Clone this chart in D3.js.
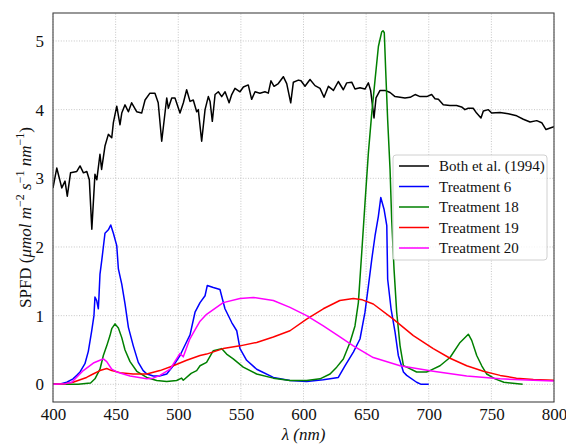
<!DOCTYPE html>
<html>
<head>
<meta charset="utf-8">
<script src="https://cdn.jsdelivr.net/npm/d3@7/dist/d3.min.js"></script>
<style>
  html, body { margin: 0; padding: 0; background: #fff; }
  svg { display: block; }
  svg text { font-family: "Liberation Serif", "Times New Roman", Times, "DejaVu Serif", serif !important; fill: #111; }
</style>
</head>
<body>
<svg id="chart" width="566" height="446"></svg>
<script>
// Spectral photon flux density, wavelength (nm) vs SPFD
const xTicks = [400, 450, 500, 550, 600, 650, 700, 750, 800];
const yTicks = [0, 1, 2, 3, 4, 5];

const seriesNames = ["Both et al. (1994)", "Treatment 6", "Treatment 18", "Treatment 19", "Treatment 20"];
const seriesColors = ["#000000", "#0000ff", "#008000", "#ff0000", "#ff00ff"];

// Both et al. (1994) reference spectrum
const bothWl = [400, 403, 407, 409.6, 411.4, 414, 419, 421.6, 424.3, 427, 429, 431, 433.5, 435, 437.5, 438.8, 441.5, 444.2, 446.9, 448.2,
  450.9, 453.5, 454.9, 457.5, 460.2, 462.8, 466.8, 470.8, 473.5, 477.4, 481.4, 484, 486.8, 490.8, 492.1, 494.8, 497.4, 501.4, 504.1, 506.7,
  509.4, 512, 514.7, 516, 518.7, 521.4, 524, 525.4, 527.2, 529.4, 532, 534.7, 537.4, 540.6, 542.7, 545.3, 549.3, 552, 555.9, 558.6,
  561.3, 565.2, 569.2, 571.9, 574, 576.5, 579.9, 583.9, 586.6, 589.8, 591.9, 595.9, 598, 601.2, 605.2, 609.2, 613.2, 616.4, 619.9, 623.9,
  627.8, 631.8, 634.5, 638.5, 641.1, 645.1, 649.1, 651.8, 653.6, 656.3, 657.9, 661.1, 665.1, 669.1, 673.1, 677.1, 681, 685.1, 689.1, 693.1,
  698.4, 702.3, 705, 707.7, 711.6, 716.9, 722.2, 726.2, 728.9, 731.5, 735.5, 738.2, 741.7, 743.6, 747.6, 750.2, 756.9, 763.5, 770.2, 775.5,
  780.9, 786.2, 790.2, 793.6, 798.1, 800];
const bothVal = [2.86, 3.15, 2.86, 2.96, 2.74, 3.08, 3.10, 3.18, 3.08, 3.10, 2.98, 2.26, 3.06, 2.98, 3.35, 3.13, 3.47, 3.64, 3.59, 3.81,
  4.05, 3.78, 3.95, 4.07, 3.97, 4.10, 3.97, 3.95, 4.14, 4.24, 4.24, 4.10, 3.54, 4.17, 4.02, 4.17, 4.17, 3.95, 4.10, 4.29,
  4.12, 4.14, 3.97, 4.00, 3.54, 4.00, 4.19, 4.12, 3.83, 4.22, 4.26, 4.19, 4.26, 4.10, 4.22, 4.31, 4.26, 4.33, 4.36, 4.15,
  4.26, 4.24, 4.26, 4.24, 4.42, 4.34, 4.38, 4.48, 4.38, 4.10, 4.40, 4.43, 4.42, 4.34, 4.44, 4.35, 4.31, 4.18, 4.34, 4.28,
  4.41, 4.29, 4.39, 4.40, 4.30, 4.32, 4.30, 4.39, 4.28, 3.88, 4.17, 4.28, 4.28, 4.25, 4.19, 4.18, 4.17, 4.18, 4.22, 4.19,
  4.19, 4.22, 4.16, 4.15, 4.07, 4.06, 4.06, 4.04, 4.00, 4.02, 4.02, 3.95, 3.88, 3.98, 4.00, 3.95, 3.96, 3.94, 3.91, 3.86,
  3.82, 3.84, 3.81, 3.71, 3.74, 3.75];

// Treatment 6
const t6Wl = [400, 405, 411, 416, 419, 421.6, 425.5, 428.2, 430.9, 432.7, 433.5, 434.9, 436.2, 436.7, 437.5, 438.9, 440.2, 441.5, 444.2, 446.1,
  448.2, 450.9, 452.2, 454.9, 457.5, 460.2, 464.1, 468.1, 472, 475, 480, 485, 490.8, 496, 501.4, 506.7, 509.4, 513.4, 517.4, 521.4,
  523.2, 528, 533.3, 537.3, 542.7, 546.7, 549.3, 554.6, 562.6, 575.9, 589.2, 602.5, 615.8, 627.8, 633.1, 639.8, 645.1, 649.1, 651.8, 654.5,
  657.1, 659.8, 661.7, 664.3, 666.5, 667.2, 669.9, 673.1, 675.7, 679.8, 682.4, 690.3, 694, 700];
const t6Val = [0, 0, 0.03, 0.08, 0.13, 0.18, 0.30, 0.48, 0.78, 1.00, 1.27, 1.22, 1.10, 1.28, 1.60, 1.80, 2.00, 2.20, 2.25, 2.32,
  2.20, 2.02, 1.68, 1.46, 1.17, 0.83, 0.56, 0.32, 0.20, 0.15, 0.12, 0.12, 0.15, 0.27, 0.42, 0.62, 0.72, 1.05, 1.19, 1.29,
  1.44, 1.41, 1.38, 1.10, 0.90, 0.78, 0.52, 0.35, 0.22, 0.10, 0.055, 0.04, 0.065, 0.10, 0.27, 0.47, 0.66, 1.05, 1.43, 1.82,
  2.16, 2.45, 2.72, 2.55, 2.31, 1.53, 1.10, 0.76, 0.42, 0.18, 0.13, 0.03, 0, 0];

// Treatment 18
const t18Wl = [400, 420, 430, 433.5, 437.5, 440.2, 442.9, 445.5, 446.9, 449.5, 452.2, 454.9, 457.5, 461.5, 466.9, 474.8, 482.8, 490.8, 498.7, 502.7,
  504, 510.3, 514.7, 517.4, 522.6, 528, 534.6, 538.6, 543.9, 551.9, 562.6, 575.9, 589.2, 602.5, 613.2, 621.2, 626.5, 631.8, 637.1, 641.1,
  643.8, 646.5, 649.1, 651.8, 654.5, 657.1, 659.8, 662.4, 663.5, 664.5, 665.6, 667.2, 669.1, 670.4, 672.3, 674.4, 677.1, 679.8, 682.4, 690.3,
  698.3, 700.9, 709, 717, 725, 731.6, 734.3, 738.3, 742.3, 746.3, 752.9, 760, 775];
const t18Val = [0, 0, 0.02, 0.08, 0.22, 0.42, 0.56, 0.71, 0.81, 0.88, 0.82, 0.68, 0.50, 0.33, 0.19, 0.10, 0.055, 0.04, 0.055, 0.09,
  0.06, 0.16, 0.20, 0.27, 0.32, 0.49, 0.52, 0.44, 0.37, 0.25, 0.15, 0.09, 0.055, 0.055, 0.08, 0.15, 0.25, 0.37, 0.61, 0.85,
  1.19, 1.92, 2.64, 3.37, 3.95, 4.43, 4.92, 5.13, 5.15, 5.12, 4.58, 3.85, 3.13, 2.40, 1.67, 1.05, 0.56, 0.27, 0.25, 0.18,
  0.18, 0.20, 0.27, 0.39, 0.61, 0.73, 0.64, 0.42, 0.27, 0.15, 0.08, 0.03, 0];

// Treatment 19
const t19Wl = [400, 410, 416, 426.8, 432, 437.5, 442.9, 446.9, 453.5, 464, 474.8, 485.4, 496, 506.7, 517.4, 522.6, 535.9, 549.3, 562.6, 575.9,
  589.2, 602.5, 615.8, 629, 639.8, 647, 655.7, 671.7, 687.7, 703.6, 717, 730.3, 743.6, 757, 770, 783.5, 800];
const t19Val = [0, 0.01, 0.03, 0.10, 0.15, 0.20, 0.23, 0.20, 0.17, 0.15, 0.15, 0.20, 0.27, 0.35, 0.42, 0.44, 0.52, 0.56, 0.61, 0.69,
  0.78, 0.95, 1.10, 1.22, 1.25, 1.23, 1.17, 0.95, 0.71, 0.52, 0.38, 0.27, 0.19, 0.13, 0.09, 0.07, 0.06];

// Treatment 20
const t20Wl = [400, 410, 415, 424.2, 432.2, 437.5, 440.2, 442.9, 446.9, 450.9, 461.5, 474.8, 480, 485.4, 493.5, 501.4, 504, 509, 512, 517.4,
  522.6, 535.9, 549.3, 559.9, 575.9, 589.2, 602.5, 615.8, 629.1, 639.8, 655.7, 677.1, 703.6, 730.3, 757, 783.5, 800];
const t20Val = [0, 0.01, 0.03, 0.20, 0.31, 0.35, 0.37, 0.33, 0.22, 0.18, 0.12, 0.08, 0.09, 0.13, 0.22, 0.45, 0.40, 0.65, 0.75, 0.92,
  1.02, 1.19, 1.25, 1.265, 1.22, 1.12, 1.00, 0.85, 0.69, 0.56, 0.39, 0.27, 0.19, 0.12, 0.08, 0.06, 0.05];

const seriesWl = [bothWl, t6Wl, t18Wl, t19Wl, t20Wl];
const seriesVal = [bothVal, t6Val, t18Val, t19Val, t20Val];

const SERIF = '"Liberation Serif", "Times New Roman", Times, "DejaVu Serif", serif';
const margin = { left: 53, right: 12, top: 13, bottom: 44 };
const W = 566, H = 446;
const svg = d3.select("#chart");

const x = d3.scaleLinear().domain([400, 800]).range([margin.left, W - margin.right]);
const y = d3.scaleLinear().domain([-0.2575, 5.4075]).range([H - margin.bottom, margin.top]);

// grid
const grid = svg.append("g");
grid.selectAll("line.gx").data(xTicks).join("line")
  .attr("x1", d => x(d)).attr("x2", d => x(d))
  .attr("y1", y.range()[0]).attr("y2", y.range()[1])
  .attr("stroke", "#b8b8b8").attr("stroke-width", 0.8).attr("stroke-dasharray", "1,1.6");
grid.selectAll("line.gy").data(yTicks).join("line")
  .attr("x1", x.range()[0]).attr("x2", x.range()[1])
  .attr("y1", d => y(d)).attr("y2", d => y(d))
  .attr("stroke", "#b8b8b8").attr("stroke-width", 0.8).attr("stroke-dasharray", "1,1.6");

// clip to axes
svg.append("clipPath").attr("id", "plotclip").append("rect")
  .attr("x", x.range()[0]).attr("y", y.range()[1])
  .attr("width", x.range()[1] - x.range()[0]).attr("height", y.range()[0] - y.range()[1]);

const line = d3.line().x(d => x(d[0])).y(d => y(d[1]));
const lines = svg.append("g").attr("clip-path", "url(#plotclip)");
seriesWl.forEach((wl, i) => {
  const pts = wl.map((w, j) => [w, seriesVal[i][j]]);
  lines.append("path").datum(pts)
    .attr("d", line)
    .attr("fill", "none")
    .attr("stroke", seriesColors[i])
    .attr("stroke-width", 1.5)
    .attr("stroke-linejoin", "round");
});

// axes
const xAxis = d3.axisBottom(x).tickValues(xTicks).tickSize(0).tickPadding(6).tickFormat(d3.format("d"));
const yAxis = d3.axisLeft(y).tickValues(yTicks).tickSize(0).tickPadding(9).tickFormat(d3.format("d"));
const gx = svg.append("g").attr("transform", `translate(0,${y.range()[0]})`).call(xAxis);
const gy = svg.append("g").attr("transform", `translate(${x.range()[0]},0)`).call(yAxis);
[gx, gy].forEach(g => {
  g.attr("font-family", SERIF).attr("font-size", 17);
  g.select(".domain").remove();
  g.selectAll("text").attr("fill", "#111");
});

// frame
svg.append("rect")
  .attr("x", x.range()[0]).attr("y", y.range()[1])
  .attr("width", x.range()[1] - x.range()[0]).attr("height", y.range()[0] - y.range()[1])
  .attr("fill", "none").attr("stroke", "#444").attr("stroke-width", 1.1);

// x label
svg.append("text")
  .attr("x", (x.range()[0] + x.range()[1]) / 2).attr("y", 440)
  .attr("text-anchor", "middle").attr("font-size", 17).attr("font-style", "italic")
  .text("λ (nm)");

// y label
const yl = svg.append("text")
  .attr("transform", `translate(31,${(y.range()[0] + y.range()[1]) / 2 + 10}) rotate(-90)`)
  .attr("text-anchor", "middle").attr("font-size", 17);
yl.append("tspan").text("SPFD (");
yl.append("tspan").attr("font-style", "italic").text("μmol m");
yl.append("tspan").attr("dy", -7).attr("font-size", 12).text("−2");
yl.append("tspan").attr("dy", 7).attr("font-style", "italic").text(" s");
yl.append("tspan").attr("dy", -7).attr("font-size", 12).text("−1");
yl.append("tspan").attr("dy", 7).attr("font-style", "italic").text(" nm");
yl.append("tspan").attr("dy", -7).attr("font-size", 12).text("−1");
yl.append("tspan").attr("dy", 7).text(")");

// legend
const lg = svg.append("g").attr("transform", "translate(393,155)");
lg.append("rect").attr("width", 154).attr("height", 105).attr("rx", 3)
  .attr("fill", "#fff").attr("fill-opacity", 0.8)
  .attr("stroke", "#d0d0d0").attr("stroke-width", 1);
seriesNames.forEach((name, i) => {
  const cy = 11 + i * 20.5;
  lg.append("line").attr("x1", 6).attr("x2", 36).attr("y1", cy).attr("y2", cy)
    .attr("stroke", seriesColors[i]).attr("stroke-width", 1.5);
  lg.append("text").attr("x", 46).attr("y", cy + 5).attr("font-size", 15).text(name);
});
</script>
</body>
</html>
